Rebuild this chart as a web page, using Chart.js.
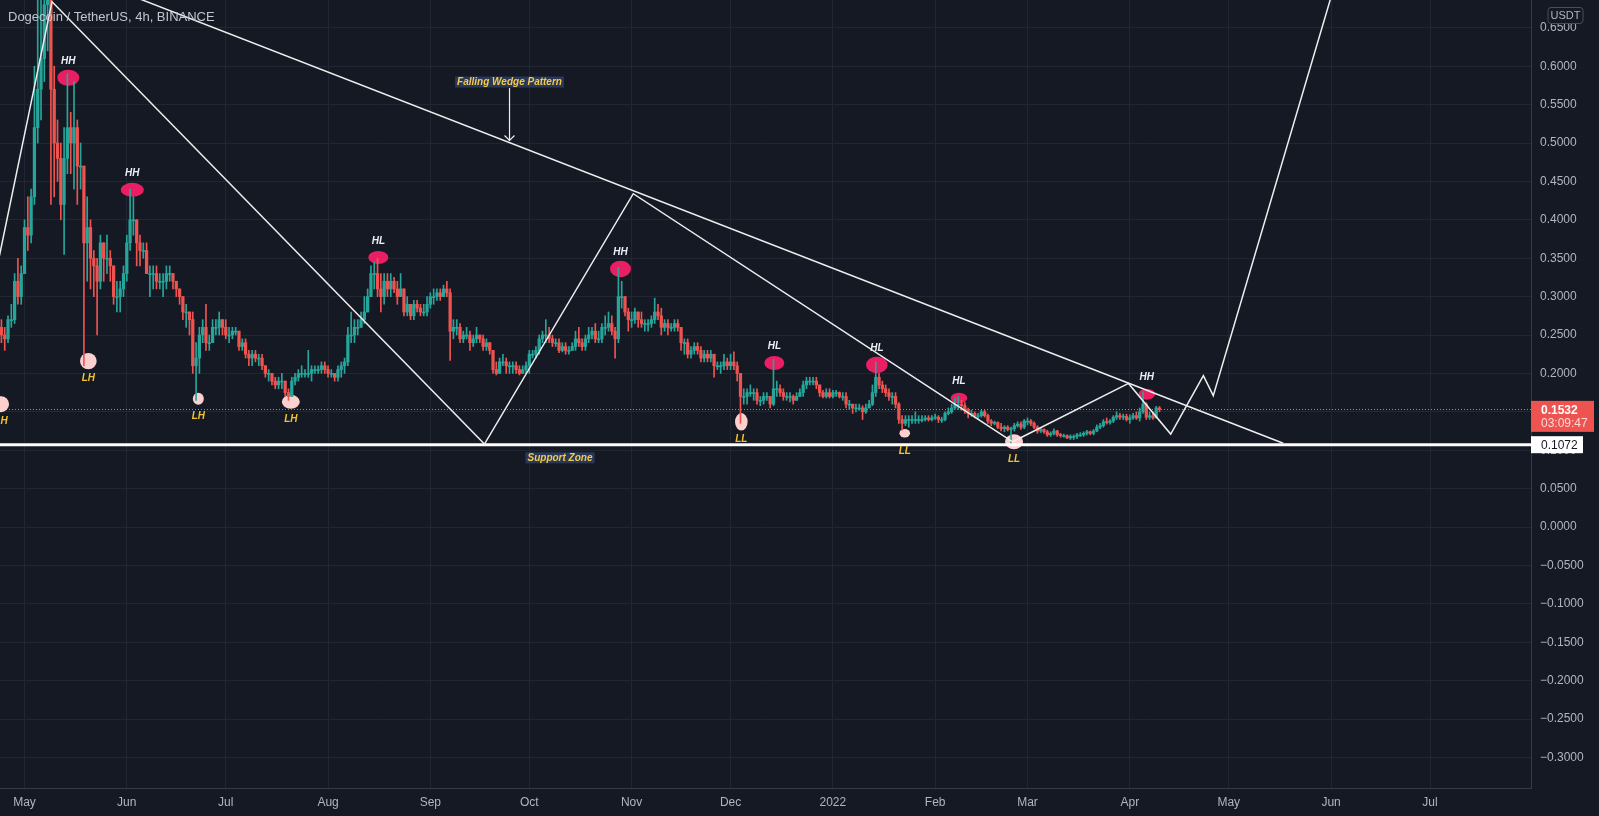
<!DOCTYPE html>
<html>
<head>
<meta charset="utf-8">
<script src="https://cdn.jsdelivr.net/npm/chart.js@4.4.1/dist/chart.umd.min.js"></script>
<style>
html, body { margin: 0; padding: 0; background: #151924; }
#wrap { width: 1599px; height: 816px; }
</style>
</head>
<body>
<div id="wrap"><canvas id="myChart" width="1599" height="816"></canvas></div>
<script>
// daily candles, 23 Apr 2021 .. 10 Apr 2022
// x values are days counted from 1 May 2021
const startDay = -8;
const firstOpen = 0.25;

const closes = [
    0.26, 0.25, 0.245, 0.27, 0.27, 0.32, 0.30, 0.33,
    0.39, 0.38, 0.43, 0.52, 0.57, 0.61, 0.68, 0.69, 0.57, 0.50, 0.48, 0.42, 0.48, 0.52, 0.50, 0.52, 0.47, 0.47, 0.37, 0.39, 0.35, 0.34, 0.32, 0.37, 0.35, 0.35, 0.34, 0.30, 0.30, 0.31, 0.33,
    0.37, 0.40, 0.40, 0.37, 0.36, 0.36, 0.33, 0.33, 0.33, 0.32, 0.32, 0.32, 0.33, 0.33, 0.32, 0.31, 0.30, 0.28, 0.28, 0.27, 0.21, 0.22, 0.25, 0.26, 0.24, 0.24, 0.26, 0.26, 0.27, 0.26,
    0.25, 0.25, 0.255, 0.255, 0.235, 0.24, 0.225, 0.22, 0.225, 0.22, 0.22, 0.21, 0.20, 0.20, 0.19, 0.185, 0.19, 0.19, 0.175, 0.17, 0.19, 0.195, 0.20, 0.20, 0.20, 0.20, 0.205, 0.205, 0.205, 0.21, 0.205,
    0.20, 0.20, 0.195, 0.205, 0.21, 0.215, 0.25, 0.25, 0.26, 0.26, 0.27, 0.28, 0.30, 0.33, 0.33, 0.31, 0.30, 0.32, 0.31, 0.32, 0.31, 0.30, 0.31, 0.28, 0.29, 0.275, 0.29, 0.285, 0.28, 0.28, 0.29,
    0.30, 0.30, 0.305, 0.30, 0.31, 0.305, 0.255, 0.26, 0.26, 0.245, 0.25, 0.25, 0.24, 0.245, 0.25, 0.245, 0.235, 0.24, 0.23, 0.205, 0.20, 0.215, 0.215, 0.21, 0.21, 0.21, 0.205, 0.20, 0.205, 0.21,
    0.225, 0.225, 0.23, 0.245, 0.25, 0.25, 0.245, 0.24, 0.24, 0.23, 0.235, 0.23, 0.23, 0.235, 0.245, 0.24, 0.235, 0.245, 0.25, 0.255, 0.245, 0.245, 0.26, 0.26, 0.265, 0.255, 0.245, 0.30, 0.30, 0.28, 0.27,
    0.27, 0.28, 0.27, 0.265, 0.265, 0.265, 0.27, 0.28, 0.275, 0.26, 0.265, 0.26, 0.26, 0.265, 0.26, 0.24, 0.24, 0.225, 0.23, 0.235, 0.23, 0.22, 0.225, 0.22, 0.225, 0.21, 0.21, 0.21, 0.215, 0.21,
    0.215, 0.21, 0.20, 0.17, 0.17, 0.175, 0.175, 0.175, 0.165, 0.165, 0.17, 0.17, 0.16, 0.18, 0.18, 0.175, 0.17, 0.17, 0.17, 0.165, 0.17, 0.175, 0.185, 0.19, 0.19, 0.19, 0.185, 0.175, 0.17, 0.175, 0.17,
    0.175, 0.175, 0.17, 0.17, 0.16, 0.16, 0.155, 0.155, 0.155, 0.15, 0.155, 0.16, 0.175, 0.195, 0.185, 0.18, 0.175, 0.17, 0.17, 0.16, 0.14, 0.135, 0.14, 0.14, 0.14, 0.14, 0.14, 0.14, 0.142, 0.14, 0.142,
    0.143, 0.14, 0.14, 0.148, 0.15, 0.155, 0.16, 0.16, 0.158, 0.152, 0.148, 0.148, 0.145, 0.145, 0.15, 0.145, 0.138, 0.135, 0.136, 0.13, 0.128, 0.13, 0.127, 0.128, 0.132, 0.134, 0.13, 0.138,
    0.138, 0.135, 0.13, 0.125, 0.127, 0.124, 0.12, 0.122, 0.125, 0.12, 0.119, 0.119, 0.116, 0.118, 0.118, 0.12, 0.12, 0.122, 0.124, 0.122, 0.125, 0.13, 0.132, 0.137, 0.136, 0.138, 0.143, 0.145, 0.143, 0.144, 0.14,
    0.142, 0.145, 0.142, 0.15, 0.16, 0.143, 0.145, 0.142, 0.155, 0.1532
];
const highs = [
    0.27, 0.27, 0.26, 0.275, 0.29, 0.33, 0.35, 0.34,
    0.40, 0.43, 0.44, 0.60, 0.69, 0.69, 0.71, 0.74, 0.70, 0.60, 0.53, 0.50, 0.52, 0.59, 0.54, 0.58, 0.53, 0.50, 0.47, 0.43, 0.40, 0.36, 0.35, 0.38, 0.37, 0.38, 0.36, 0.34, 0.32, 0.32, 0.34,
    0.38, 0.44, 0.43, 0.40, 0.38, 0.37, 0.37, 0.34, 0.34, 0.34, 0.33, 0.33, 0.34, 0.34, 0.33, 0.32, 0.31, 0.30, 0.29, 0.28, 0.28, 0.24, 0.26, 0.27, 0.29, 0.25, 0.27, 0.27, 0.28, 0.27,
    0.27, 0.26, 0.26, 0.26, 0.255, 0.245, 0.245, 0.23, 0.23, 0.23, 0.225, 0.225, 0.21, 0.205, 0.20, 0.195, 0.195, 0.20, 0.19, 0.18, 0.195, 0.20, 0.205, 0.21, 0.205, 0.23, 0.21, 0.21, 0.21, 0.215, 0.215,
    0.21, 0.205, 0.20, 0.21, 0.215, 0.22, 0.26, 0.28, 0.27, 0.27, 0.28, 0.30, 0.31, 0.34, 0.345, 0.35, 0.33, 0.33, 0.33, 0.33, 0.325, 0.32, 0.33, 0.31, 0.30, 0.29, 0.295, 0.295, 0.29, 0.29, 0.30,
    0.305, 0.31, 0.31, 0.31, 0.315, 0.32, 0.31, 0.27, 0.27, 0.265, 0.255, 0.26, 0.255, 0.25, 0.26, 0.25, 0.25, 0.245, 0.24, 0.23, 0.215, 0.22, 0.225, 0.22, 0.215, 0.215, 0.215, 0.21, 0.21, 0.215,
    0.23, 0.23, 0.235, 0.25, 0.255, 0.27, 0.26, 0.25, 0.245, 0.245, 0.24, 0.24, 0.235, 0.24, 0.255, 0.26, 0.245, 0.25, 0.26, 0.26, 0.265, 0.255, 0.265, 0.275, 0.28, 0.275, 0.26, 0.338, 0.32, 0.30, 0.285,
    0.28, 0.285, 0.28, 0.28, 0.27, 0.27, 0.275, 0.298, 0.29, 0.285, 0.27, 0.27, 0.265, 0.27, 0.27, 0.26, 0.245, 0.245, 0.235, 0.24, 0.24, 0.235, 0.23, 0.23, 0.23, 0.225, 0.215, 0.215, 0.225, 0.22,
    0.225, 0.228, 0.215, 0.20, 0.18, 0.18, 0.185, 0.18, 0.18, 0.17, 0.175, 0.175, 0.17, 0.218, 0.19, 0.185, 0.18, 0.175, 0.175, 0.172, 0.175, 0.18, 0.19, 0.195, 0.195, 0.195, 0.195, 0.185, 0.178, 0.18, 0.18,
    0.178, 0.178, 0.176, 0.175, 0.175, 0.165, 0.16, 0.16, 0.16, 0.158, 0.16, 0.165, 0.185, 0.215, 0.20, 0.19, 0.185, 0.18, 0.175, 0.175, 0.162, 0.145, 0.145, 0.145, 0.145, 0.15, 0.145, 0.145, 0.145, 0.145, 0.145,
    0.147, 0.145, 0.143, 0.15, 0.155, 0.16, 0.168, 0.17, 0.165, 0.162, 0.155, 0.152, 0.15, 0.148, 0.152, 0.152, 0.147, 0.14, 0.138, 0.137, 0.135, 0.132, 0.132, 0.13, 0.135, 0.137, 0.137, 0.14,
    0.142, 0.14, 0.137, 0.132, 0.129, 0.128, 0.126, 0.124, 0.128, 0.126, 0.122, 0.121, 0.12, 0.12, 0.12, 0.122, 0.123, 0.124, 0.126, 0.125, 0.127, 0.133, 0.135, 0.14, 0.142, 0.14, 0.145, 0.15, 0.148, 0.147, 0.147,
    0.146, 0.148, 0.15, 0.155, 0.176, 0.162, 0.15, 0.15, 0.157, 0.157
];
const lows = [
    0.21, 0.24, 0.23, 0.24, 0.26, 0.265, 0.29, 0.29,
    0.33, 0.36, 0.37, 0.42, 0.50, 0.53, 0.58, 0.62, 0.42, 0.43, 0.45, 0.40, 0.355, 0.46, 0.46, 0.44, 0.42, 0.44, 0.21, 0.32, 0.31, 0.30, 0.25, 0.31, 0.32, 0.33, 0.32, 0.29, 0.28, 0.28, 0.30,
    0.32, 0.36, 0.38, 0.34, 0.34, 0.35, 0.33, 0.30, 0.31, 0.31, 0.31, 0.30, 0.31, 0.32, 0.31, 0.30, 0.29, 0.27, 0.26, 0.25, 0.20, 0.165, 0.20, 0.24, 0.23, 0.23, 0.24, 0.25, 0.25, 0.25,
    0.245, 0.24, 0.245, 0.25, 0.23, 0.23, 0.22, 0.21, 0.21, 0.215, 0.21, 0.205, 0.195, 0.19, 0.185, 0.18, 0.18, 0.18, 0.17, 0.165, 0.17, 0.185, 0.19, 0.195, 0.195, 0.195, 0.19, 0.20, 0.20, 0.20, 0.20,
    0.195, 0.195, 0.19, 0.19, 0.195, 0.20, 0.21, 0.24, 0.24, 0.25, 0.26, 0.265, 0.28, 0.30, 0.31, 0.30, 0.28, 0.29, 0.30, 0.30, 0.305, 0.29, 0.30, 0.275, 0.275, 0.27, 0.27, 0.28, 0.275, 0.275, 0.275,
    0.285, 0.29, 0.295, 0.295, 0.30, 0.30, 0.217, 0.245, 0.25, 0.24, 0.24, 0.245, 0.23, 0.235, 0.24, 0.24, 0.23, 0.23, 0.225, 0.20, 0.198, 0.20, 0.21, 0.20, 0.20, 0.20, 0.20, 0.198, 0.20, 0.20,
    0.20, 0.22, 0.22, 0.225, 0.24, 0.24, 0.24, 0.235, 0.235, 0.227, 0.228, 0.225, 0.225, 0.23, 0.23, 0.235, 0.23, 0.23, 0.24, 0.245, 0.24, 0.24, 0.24, 0.25, 0.255, 0.25, 0.22, 0.24, 0.285, 0.275, 0.255,
    0.26, 0.265, 0.26, 0.26, 0.255, 0.255, 0.26, 0.265, 0.27, 0.25, 0.255, 0.25, 0.255, 0.255, 0.255, 0.23, 0.225, 0.22, 0.22, 0.225, 0.225, 0.215, 0.215, 0.215, 0.215, 0.195, 0.205, 0.20, 0.205, 0.205,
    0.205, 0.205, 0.19, 0.135, 0.16, 0.16, 0.17, 0.165, 0.16, 0.158, 0.16, 0.165, 0.155, 0.158, 0.17, 0.17, 0.165, 0.165, 0.163, 0.16, 0.165, 0.17, 0.17, 0.18, 0.185, 0.185, 0.18, 0.17, 0.168, 0.168, 0.168,
    0.168, 0.17, 0.168, 0.165, 0.155, 0.153, 0.148, 0.15, 0.152, 0.14, 0.148, 0.155, 0.158, 0.17, 0.18, 0.175, 0.17, 0.165, 0.16, 0.155, 0.135, 0.126, 0.132, 0.13, 0.135, 0.135, 0.135, 0.137, 0.138, 0.138, 0.138,
    0.14, 0.136, 0.136, 0.138, 0.146, 0.148, 0.153, 0.153, 0.152, 0.148, 0.142, 0.144, 0.142, 0.14, 0.143, 0.143, 0.135, 0.132, 0.133, 0.128, 0.125, 0.124, 0.125, 0.107, 0.125, 0.13, 0.127, 0.128,
    0.133, 0.132, 0.128, 0.122, 0.123, 0.122, 0.118, 0.118, 0.12, 0.118, 0.117, 0.117, 0.115, 0.114, 0.114, 0.115, 0.118, 0.118, 0.12, 0.12, 0.12, 0.124, 0.128, 0.13, 0.134, 0.134, 0.136, 0.14, 0.14, 0.14, 0.138,
    0.135, 0.14, 0.14, 0.138, 0.148, 0.14, 0.14, 0.14, 0.142, 0.15
];

// axis ticks
const monthDays = [0, 31, 61, 92, 123, 153, 184, 214, 245, 276, 304, 335, 365, 396, 426];
const monthLabels = ['May', 'Jun', 'Jul', 'Aug', 'Sep', 'Oct', 'Nov', 'Dec', '2022', 'Feb', 'Mar', 'Apr', 'May', 'Jun', 'Jul'];
const priceTicks = [0.65, 0.6, 0.55, 0.5, 0.45, 0.4, 0.35, 0.3, 0.25, 0.2, 0.15, 0.1, 0.05, 0,
    -0.05, -0.1, -0.15, -0.2, -0.25, -0.3];

const supportLevel = 0.1072;
const lastPrice = 0.1532;
const countdown = '03:09:47';

// drawings on the chart
const zigzagDays = [-8, 8.33, 139.4, 184.5, 299.5, 334.6, 347.4, 357.3, 360.3, 398.4];
const zigzagPrices = [0.345, 0.684, 0.108, 0.434, 0.111, 0.187, 0.121, 0.197, 0.171, 0.725];
const wedgeDays = [20.3, 381.5];
const wedgePrices = [0.712, 0.109];
const arrowDays = [147, 147];
const arrowPrices = [0.5716, 0.5033];

const markerDays = [-7.12, 13.27, 19.34, 32.67, 52.68, 80.71, 107.24, 180.64, 217.26, 227.26, 258.33, 266.79, 283.24, 299.91, 340.14];
const markerPrices = [0.160, 0.585, 0.216, 0.439, 0.167, 0.163, 0.351, 0.336, 0.137, 0.2135, 0.211, 0.122, 0.168, 0.111, 0.173];
const markerLabels = ['LH', 'HH', 'LH', 'HH', 'LH', 'LH', 'HL', 'HH', 'LL', 'HL', 'HL', 'LL', 'HL', 'LL', 'HH'];
const markerRadii = [[8, 8], [11, 8], [8.3, 8.2], [11.5, 7], [5.5, 6], [9, 7], [10, 6.5], [10.5, 8.3],
    [6.3, 8.7], [10, 7], [10.8, 8.3], [5.3, 4.2], [8.3, 5.3], [9, 7.5], [8.3, 5.5]];

const noteTexts = ['Falling Wedge Pattern', 'Support Zone'];
const noteDays = [147, 162.3];
const notePrices = [0.5794, 0.0901];

const BG = '#151924';
const GRID = '#222633';
const TEXT = '#b2b5be';
const UP = '#26a69a';
const DOWN = '#ef5350';
const FONT = '"Liberation Sans", Arial, sans-serif';

const days = closes.map((c, i) => startDay + i);
const opens = closes.map((c, i) => (i === 0 ? firstOpen : closes[i - 1]));
const wickData = days.map((d, i) => ({
    x: d,
    y: [Math.min(lows[i], opens[i], closes[i]), Math.max(highs[i], opens[i], closes[i])]
}));
const bodyData = days.map((d, i) => ({ x: d, y: [opens[i], closes[i]] }));
const candleColor = (ctx) => (closes[ctx.dataIndex] >= opens[ctx.dataIndex] ? UP : DOWN);

const toPoints = (xs, ys) => xs.map((x, i) => ({ x: x, y: ys[i] }));

function formatPrice(v) {
    return (v < 0 ? '\u2212' : '') + Math.abs(v).toFixed(4);
}

const overlay = {
    id: 'overlay',
    beforeDraw(chart) {
        const c = chart.ctx;
        c.save();
        c.fillStyle = BG;
        c.fillRect(0, 0, chart.width, chart.height);
        c.restore();
    },
    beforeDatasetsDraw(chart) {
        const c = chart.ctx;
        const a = chart.chartArea;
        const x = chart.scales.x, y = chart.scales.y;
        c.save();
        c.beginPath();
        c.rect(a.left, a.top, a.right - a.left, a.bottom - a.top);
        c.clip();

        // dotted last price line
        const py = Math.round(y.getPixelForValue(lastPrice)) + 0.5;
        c.strokeStyle = 'rgba(235,170,170,0.75)';
        c.lineWidth = 1;
        c.setLineDash([1, 2]);
        c.beginPath();
        c.moveTo(a.left, py);
        c.lineTo(a.right, py);
        c.stroke();
        c.setLineDash([]);

        // swing point ellipses
        markerDays.forEach((d, i) => {
            const r = markerRadii[i];
            c.fillStyle = markerLabels[i][0] === 'H' ? '#e91e63' : '#fdd0d0';
            c.beginPath();
            c.ellipse(x.getPixelForValue(d), y.getPixelForValue(markerPrices[i]), r[0], r[1], 0, 0, Math.PI * 2);
            c.fill();
        });
        c.restore();
    },
    afterDatasetsDraw(chart) {
        const c = chart.ctx;
        const a = chart.chartArea;
        const x = chart.scales.x, y = chart.scales.y;
        c.save();
        c.beginPath();
        c.rect(a.left, a.top, a.right - a.left, a.bottom - a.top);
        c.clip();

        // swing point labels
        c.font = 'bold italic 10px ' + FONT;
        c.textAlign = 'center';
        c.textBaseline = 'middle';
        markerDays.forEach((d, i) => {
            const top = markerLabels[i][0] === 'H';
            const px = x.getPixelForValue(d);
            const py = y.getPixelForValue(markerPrices[i]);
            c.fillStyle = top ? '#eceff5' : '#f2c230';
            c.fillText(markerLabels[i], px, top ? py - 16.5 : py + 17.5);
        });

        // arrow head
        const tx = x.getPixelForValue(arrowDays[1]);
        const ty = y.getPixelForValue(arrowPrices[1]);
        c.strokeStyle = '#f0f0f0';
        c.lineWidth = 1.2;
        c.beginPath();
        c.moveTo(tx - 5, ty - 5);
        c.lineTo(tx, ty);
        c.lineTo(tx + 5, ty - 5);
        c.stroke();

        // note boxes
        c.font = 'bold italic 10px ' + FONT;
        noteTexts.forEach((t, i) => {
            const px = x.getPixelForValue(noteDays[i]);
            const py = y.getPixelForValue(notePrices[i]);
            const w = c.measureText(t).width + 4;
            c.fillStyle = 'rgba(46,62,98,0.85)';
            c.fillRect(px - w / 2, py - 5.5, w, 11);
            c.fillStyle = '#f2c94c';
            c.fillText(t, px, py + 0.5);
        });
        c.restore();
    },
    afterDraw(chart) {
        const c = chart.ctx;
        const a = chart.chartArea;
        const y = chart.scales.y;
        c.save();

        // title
        c.font = '13px ' + FONT;
        c.fillStyle = '#c3c6ce';
        c.textAlign = 'left';
        c.textBaseline = 'middle';
        c.fillText('Dogecoin / TetherUS, 4h, BINANCE', 8, 17);

        // last price box
        const lp = y.getPixelForValue(lastPrice);
        c.fillStyle = DOWN;
        c.fillRect(a.right, lp - 8.5, 63, 31);
        c.font = 'bold 12px ' + FONT;
        c.fillStyle = '#ffffff';
        c.fillText(formatPrice(lastPrice), a.right + 10, lp + 1.5);
        c.font = '12px ' + FONT;
        c.fillStyle = 'rgba(255,255,255,0.78)';
        c.fillText(countdown, a.right + 10, lp + 14);

        // support level box
        const sp = y.getPixelForValue(supportLevel);
        c.fillStyle = '#ffffff';
        c.fillRect(a.right, sp - 8.5, 52, 17);
        c.fillStyle = '#131722';
        c.fillText(formatPrice(supportLevel), a.right + 10, sp + 0.5);

        // currency tag
        c.fillStyle = BG;
        c.strokeStyle = '#4a4e5a';
        c.lineWidth = 1;
        c.beginPath();
        c.roundRect(1548, 7.5, 35, 16, 3);
        c.fill();
        c.stroke();
        c.font = '11px ' + FONT;
        c.fillStyle = TEXT;
        c.textAlign = 'center';
        c.fillText('USDT', 1565.5, 16);
        c.restore();
    }
};

Chart.defaults.font.family = FONT;
Chart.defaults.font.size = 12;
Chart.defaults.color = TEXT;

const ctx = document.getElementById('myChart').getContext('2d');
new Chart(ctx, {
    type: 'bar',
    data: {
        datasets: [
            {
                type: 'line',
                data: toPoints(zigzagDays, zigzagPrices),
                borderColor: '#eeeeee',
                borderWidth: 1.5,
                pointRadius: 0,
                tension: 0,
                order: 1
            },
            {
                type: 'line',
                data: toPoints(wedgeDays, wedgePrices),
                borderColor: '#eeeeee',
                borderWidth: 1.5,
                pointRadius: 0,
                order: 1
            },
            {
                type: 'line',
                data: toPoints(arrowDays, arrowPrices),
                borderColor: '#eeeeee',
                borderWidth: 1.2,
                pointRadius: 0,
                order: 1
            },
            {
                type: 'line',
                data: toPoints([-10, 470], [supportLevel, supportLevel]),
                borderColor: '#ffffff',
                borderWidth: 3,
                pointRadius: 0,
                order: 1
            },
            {
                data: bodyData,
                backgroundColor: candleColor,
                barThickness: 2.6,
                minBarLength: 1,
                grouped: false,
                order: 2
            },
            {
                data: wickData,
                backgroundColor: candleColor,
                barThickness: 1,
                grouped: false,
                order: 3
            }
        ]
    },
    options: {
        responsive: false,
        animation: false,
        events: [],
        layout: { padding: 0 },
        plugins: {
            legend: { display: false },
            tooltip: { enabled: false }
        },
        scales: {
            x: {
                type: 'linear',
                position: 'bottom',
                min: -7.43,
                max: 456.6,
                offset: false,
                grid: { color: GRID, drawTicks: false, offset: false },
                border: { color: '#363a46' },
                ticks: {
                    color: TEXT,
                    padding: 7,
                    autoSkip: false,
                    maxRotation: 0,
                    callback: function (value, index) {
                        return monthLabels[index];
                    }
                },
                afterBuildTicks: function (scale) {
                    scale.ticks = monthDays.map(v => ({ value: v }));
                },
                afterFit: function (scale) {
                    scale.height = 28;
                    scale.paddingLeft = 0;
                    scale.paddingRight = 0;
                }
            },
            y: {
                type: 'linear',
                position: 'right',
                min: -0.3398,
                max: 0.6862,
                grid: { color: GRID, drawTicks: false },
                border: { color: '#363a46' },
                ticks: {
                    color: TEXT,
                    padding: 9,
                    autoSkip: false,
                    callback: function (value) {
                        return formatPrice(value);
                    }
                },
                afterBuildTicks: function (scale) {
                    scale.ticks = priceTicks.map(v => ({ value: v }));
                },
                afterFit: function (scale) {
                    scale.width = 68;
                    scale.paddingTop = 0;
                    scale.paddingBottom = 0;
                }
            }
        }
    },
    plugins: [overlay]
});
</script>
</body>
</html>
